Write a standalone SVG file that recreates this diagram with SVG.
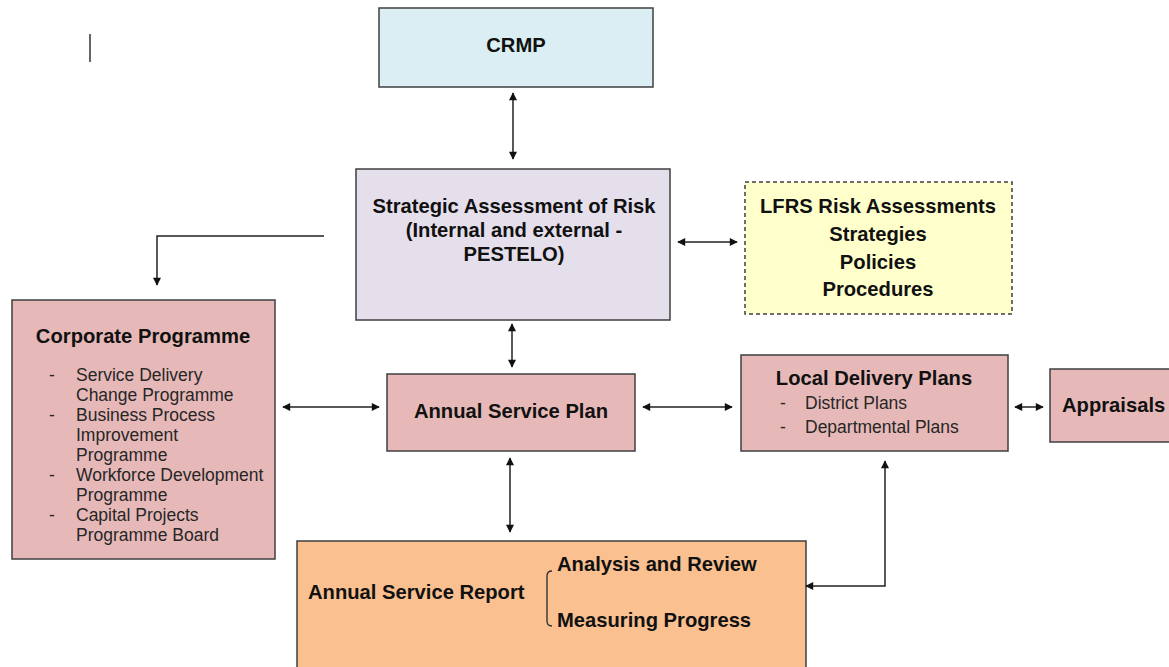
<svg xmlns="http://www.w3.org/2000/svg" width="1169" height="667" viewBox="0 0 1169 667">
<style>
.box{stroke:#3f3f3f;stroke-width:1.5}
.b{font-family:"Liberation Sans",Arial,sans-serif;font-weight:bold;font-size:20.2px;fill:#111}
.r{font-family:"Liberation Sans",Arial,sans-serif;font-size:17.5px;fill:#262626}
.c{stroke:#222;stroke-width:1.5;fill:none}
</style>
<defs>
<marker id="ah" viewBox="0 0 10 10" refX="9" refY="5" markerWidth="9" markerHeight="8" markerUnits="userSpaceOnUse" orient="auto-start-reverse">
<path d="M0,0 L10,5 L0,10 z" fill="#111"/>
</marker>
</defs>
<rect width="1169" height="667" fill="#fff"/>
<line x1="90" y1="34" x2="90" y2="62" stroke="#333" stroke-width="1.5"/>
<g id="crmp">
<rect class="box" x="379" y="8" width="274" height="79" fill="#dbeef3"/>
<text class="b" x="516" y="52" text-anchor="middle">CRMP</text>
</g>
<g id="sar">
<rect class="box" x="356" y="169" width="314" height="151" fill="#e5dfec"/>
<text class="b" x="514" y="213" text-anchor="middle">Strategic Assessment of Risk</text>
<text class="b" x="514" y="237" text-anchor="middle">(Internal and external -</text>
<text class="b" x="514" y="261" text-anchor="middle">PESTELO)</text>
</g>
<g id="lfrs">
<rect x="745" y="182" width="267" height="132" fill="#ffffcc" stroke="#3f3f3f" stroke-width="1.5" stroke-dasharray="4,3"/>
<text class="b" x="878" y="213" text-anchor="middle">LFRS Risk Assessments</text>
<text class="b" x="878" y="241" text-anchor="middle">Strategies</text>
<text class="b" x="878" y="269" text-anchor="middle">Policies</text>
<text class="b" x="878" y="296" text-anchor="middle">Procedures</text>
</g>
<g id="corporate">
<rect class="box" x="12" y="300" width="263" height="259" fill="#e6b9b8"/>
<text class="b" x="143" y="343" text-anchor="middle">Corporate Programme</text>
<g class="r">
<text x="49" y="381">-</text><text x="76" y="381">Service Delivery</text>
<text x="76" y="401">Change Programme</text>
<text x="49" y="421">-</text><text x="76" y="421">Business Process</text>
<text x="76" y="441">Improvement</text>
<text x="76" y="461">Programme</text>
<text x="49" y="481">-</text><text x="76" y="481">Workforce Development</text>
<text x="76" y="501">Programme</text>
<text x="49" y="521">-</text><text x="76" y="521">Capital Projects</text>
<text x="76" y="541">Programme Board</text>
</g>
</g>
<g id="asp">
<rect class="box" x="387" y="374" width="248" height="77" fill="#e6b9b8"/>
<text class="b" x="511" y="418" text-anchor="middle">Annual Service Plan</text>
</g>
<g id="ldp">
<rect class="box" x="741" y="355" width="267" height="96" fill="#e6b9b8"/>
<text class="b" x="874" y="385" text-anchor="middle">Local Delivery Plans</text>
<g class="r">
<text x="780" y="409">-</text><text x="805" y="409">District Plans</text>
<text x="780" y="433">-</text><text x="805" y="433">Departmental Plans</text>
</g>
</g>
<g id="appraisals">
<rect class="box" x="1050" y="369" width="125" height="73" fill="#e6b9b8"/>
<text class="b" x="1062" y="412">Appraisals</text>
</g>
<g id="asr">
<rect class="box" x="297" y="541" width="509" height="135" fill="#fac090"/>
<text class="b" x="308" y="599">Annual Service Report</text>
<path d="M552,571 Q547,571 547,576 L547,621 Q547,626 552,626" fill="none" stroke="#333" stroke-width="1.4"/>
<text class="b" x="557" y="571">Analysis and Review</text>
<text class="b" x="557" y="627">Measuring Progress</text>
</g>
<g id="connectors">
<line class="c" x1="513" y1="93" x2="513" y2="159" marker-start="url(#ah)" marker-end="url(#ah)"/>
<line class="c" x1="678" y1="242" x2="737" y2="242" marker-start="url(#ah)" marker-end="url(#ah)"/>
<polyline class="c" points="324,236 157,236 157,285" marker-end="url(#ah)"/>
<line class="c" x1="512" y1="324" x2="512" y2="367" marker-start="url(#ah)" marker-end="url(#ah)"/>
<line class="c" x1="283" y1="407" x2="379" y2="407" marker-start="url(#ah)" marker-end="url(#ah)"/>
<line class="c" x1="643" y1="407" x2="732" y2="407" marker-start="url(#ah)" marker-end="url(#ah)"/>
<line class="c" x1="1015" y1="407" x2="1043" y2="407" marker-start="url(#ah)" marker-end="url(#ah)"/>
<line class="c" x1="510" y1="458" x2="510" y2="532" marker-start="url(#ah)" marker-end="url(#ah)"/>
<polyline class="c" points="885,461 885,586 806,586" marker-start="url(#ah)" marker-end="url(#ah)"/>
</g>
</svg>
